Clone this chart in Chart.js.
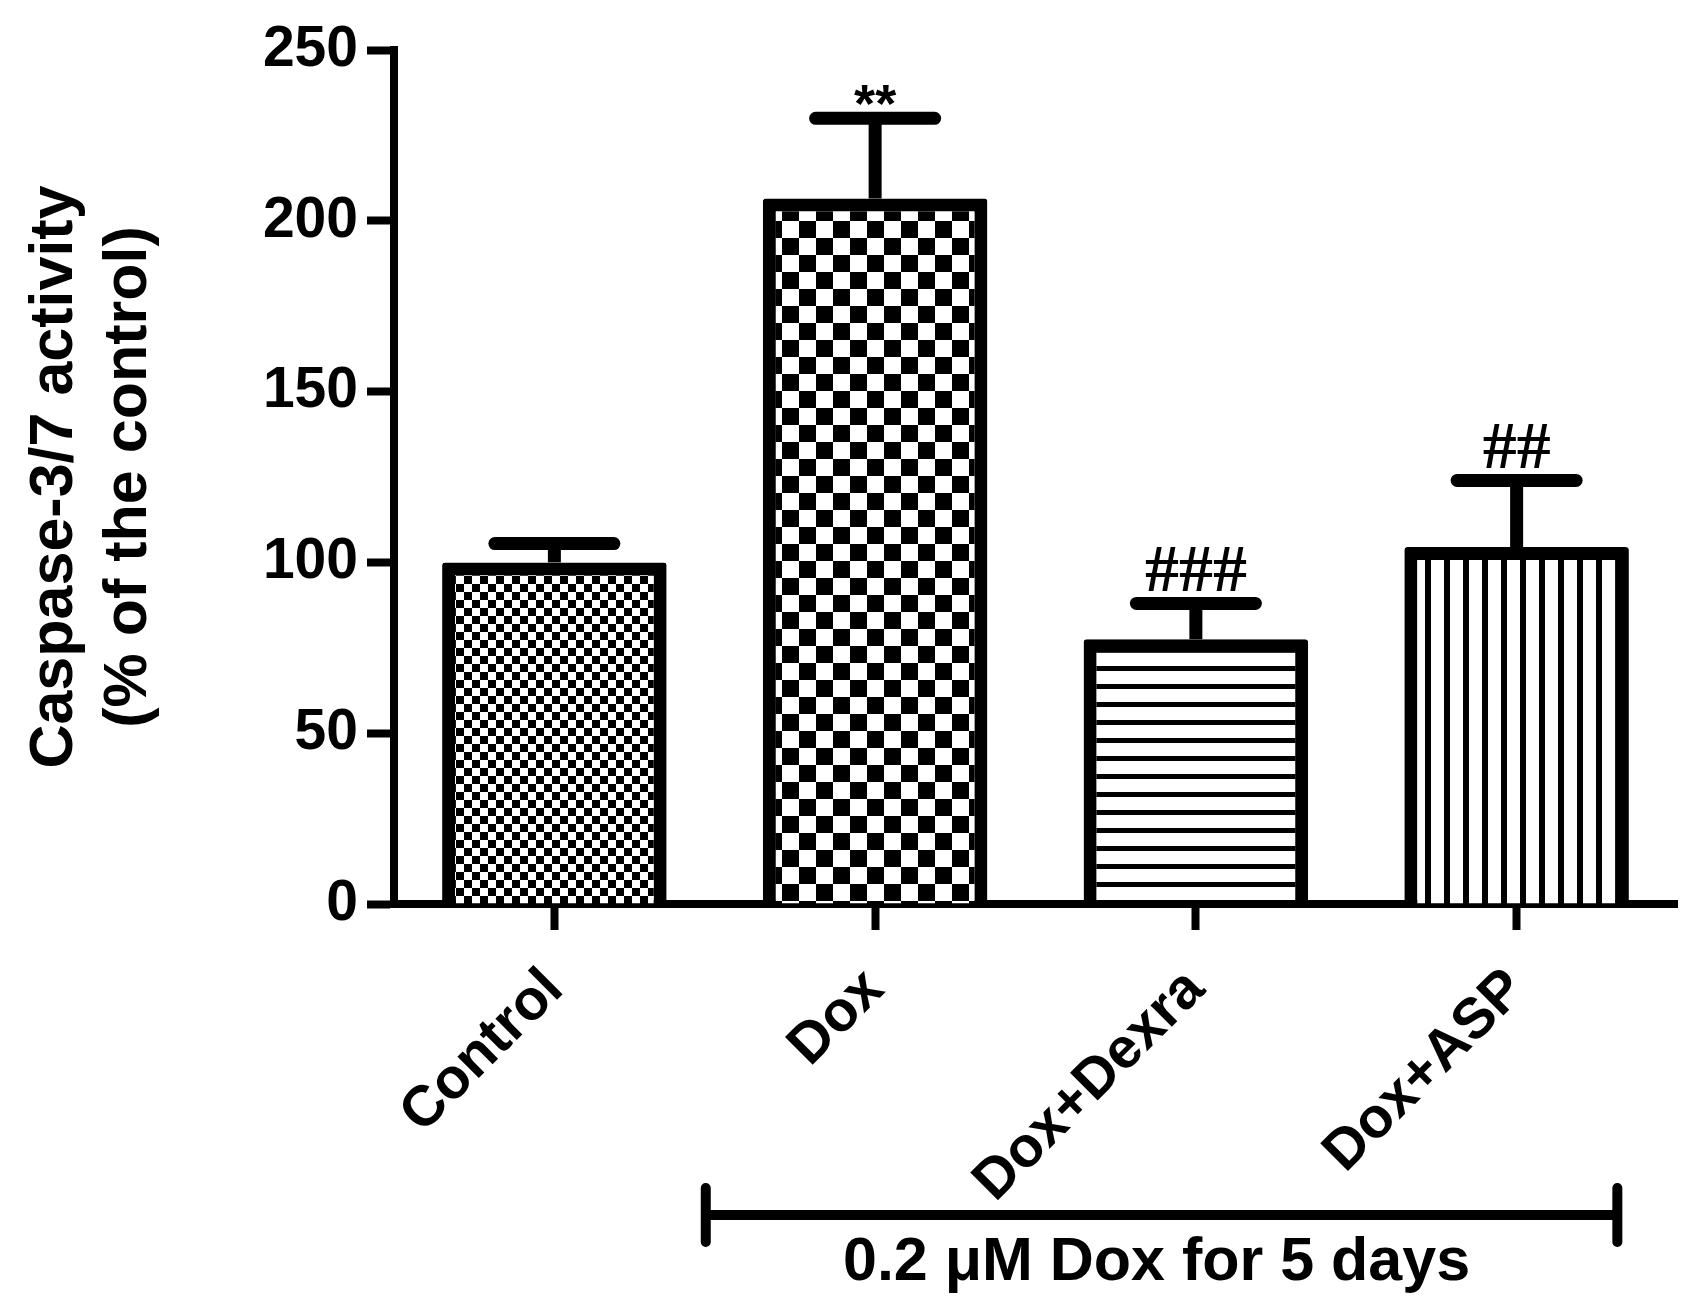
<!DOCTYPE html>
<html>
<head>
<meta charset="utf-8">
<script src="https://cdn.jsdelivr.net/npm/chart.js@4.4.1/dist/chart.umd.min.js"></script>
<style>
  html, body { margin: 0; padding: 0; background: #fff; }
  #chart { display: block; }
</style>
</head>
<body>
<canvas id="chart" width="1691" height="1299" style="width:1691px;height:1299px"></canvas>
<script>
// Caspase-3/7 activity, % of control (mean + SEM)
const categories = ['Control', 'Dox', 'Dox+Dexra', 'Dox+ASP'];
const means = [100, 206.5, 77.5, 104.5];
const errors = [5.5, 23.5, 10.5, 19.5];
const marks = ['', '**', '###', '##'];
const yTicks = [0, 50, 100, 150, 200, 250];
const yTitle = ['Caspase-3/7 activity', '(% of the control)'];
const bracketLabel = '0.2 \u03bcM Dox for 5 days';

const FONT = "'Liberation Sans', Arial, sans-serif";
const canvas = document.getElementById('chart');
const ctx = canvas.getContext('2d');

// small tiles used as fill patterns for the bars
function tile(w, h, draw) {
    const c = document.createElement('canvas');
    c.width = w;
    c.height = h;
    const g = c.getContext('2d');
    g.fillStyle = '#fff';
    g.fillRect(0, 0, w, h);
    g.fillStyle = '#000';
    draw(g);
    return ctx.createPattern(c, 'repeat');
}

function checker(s) {
    return tile(2 * s, 2 * s, g => {
        g.fillRect(0, 0, s, s);
        g.fillRect(s, s, s, s);
    });
}

const fills = [
    checker(8),
    checker(17),
    tile(18, 18, g => g.fillRect(0, 0, 18, 5)),
    tile(19, 19, g => g.fillRect(0, 0, 6, 19))
];

// error bars (upper half only) and significance marks
const errorBarPlugin = {
    id: 'errorBars',
    afterDatasetsDraw(chart) {
        const c = chart.ctx;
        const y = chart.scales.y;
        const meta = chart.getDatasetMeta(0);
        c.save();
        c.strokeStyle = '#000';
        c.fillStyle = '#000';
        meta.data.forEach((bar, i) => {
            const top = y.getPixelForValue(means[i]);
            const capY = y.getPixelForValue(means[i] + errors[i]);
            const half = bar.width * 0.265;
            c.lineWidth = 13;
            c.lineCap = 'butt';
            c.beginPath();
            c.moveTo(bar.x, top);
            c.lineTo(bar.x, capY);
            c.stroke();
            c.lineCap = 'round';
            c.beginPath();
            c.moveTo(bar.x - half, capY);
            c.lineTo(bar.x + half, capY);
            c.stroke();

            const m = marks[i];
            if (!m) return;
            c.textAlign = 'center';
            c.textBaseline = 'alphabetic';
            if (m.startsWith('*')) {
                c.font = `bold 54px ${FONT}`;
                c.fillText(m, bar.x, capY + 4);
            } else {
                c.font = "bold 68px 'Liberation Serif', 'Times New Roman', serif";
                c.fillText(m, bar.x, capY - 12);
            }
        });
        c.restore();
    }
};

// bracket under the Dox-treated groups
const bracketPlugin = {
    id: 'doxBracket',
    afterDraw(chart) {
        const c = chart.ctx;
        const x = chart.scales.x;
        const cw = x.getPixelForValue(1) - x.getPixelForValue(0);
        const x0 = x.getPixelForValue(1) - 0.528 * cw;
        const x1 = x.getPixelForValue(3) + 0.314 * cw;
        const yb = chart.chartArea.bottom + 311;
        c.save();
        c.strokeStyle = '#000';
        c.lineWidth = 10;
        c.lineCap = 'butt';
        c.beginPath();
        c.moveTo(x0, yb);
        c.lineTo(x1, yb);
        c.stroke();
        c.lineCap = 'round';
        c.beginPath();
        c.moveTo(x0, yb - 27);
        c.lineTo(x0, yb + 27);
        c.moveTo(x1, yb - 27);
        c.lineTo(x1, yb + 27);
        c.stroke();
        c.fillStyle = '#000';
        c.font = `bold 61px ${FONT}`;
        c.textAlign = 'center';
        c.textBaseline = 'alphabetic';
        c.fillText(bracketLabel, (x0 + x1) / 2 - 5, yb + 65);
        c.restore();
    }
};

new Chart(ctx, {
    type: 'bar',
    data: {
        labels: categories,
        datasets: [{
            data: means,
            backgroundColor: fills,
            borderColor: '#000',
            borderWidth: 13,
            borderSkipped: 'bottom',
            borderRadius: 3,
            barPercentage: 0.7,
            categoryPercentage: 1.0
        }]
    },
    options: {
        responsive: false,
        devicePixelRatio: 1,
        animation: false,
        layout: { padding: { left: 18, right: 14, top: 50, bottom: 0 } },
        plugins: {
            legend: { display: false },
            tooltip: { enabled: false }
        },
        scales: {
            x: {
                offset: true,
                afterFit(scale) { scale.height = 395; },
                grid: {
                    offset: false,
                    drawOnChartArea: false,
                    color: '#000',
                    tickLength: 26,
                    tickWidth: 8
                },
                border: { display: true, color: '#000', width: 8 },
                ticks: {
                    color: '#000',
                    font: { family: FONT, size: 57, weight: 'bold' },
                    minRotation: 45,
                    maxRotation: 45,
                    autoSkip: false,
                    padding: 26
                }
            },
            y: {
                min: 0,
                max: 250,
                afterFit(scale) { scale.width = 376; },
                afterBuildTicks(scale) { scale.ticks = yTicks.map(v => ({ value: v })); },
                grid: {
                    drawOnChartArea: false,
                    color: '#000',
                    tickLength: 27,
                    tickWidth: 8
                },
                border: { display: true, color: '#000', width: 8 },
                ticks: {
                    color: '#000',
                    font: { family: FONT, size: 57, weight: 'bold' },
                    padding: 9
                },
                title: {
                    display: true,
                    text: yTitle,
                    color: '#000',
                    font: { family: FONT, size: 61, weight: 'bold', lineHeight: 1.22 },
                    padding: { top: 0, bottom: 0 }
                }
            }
        }
    },
    plugins: [errorBarPlugin, bracketPlugin]
});
</script>
</body>
</html>
